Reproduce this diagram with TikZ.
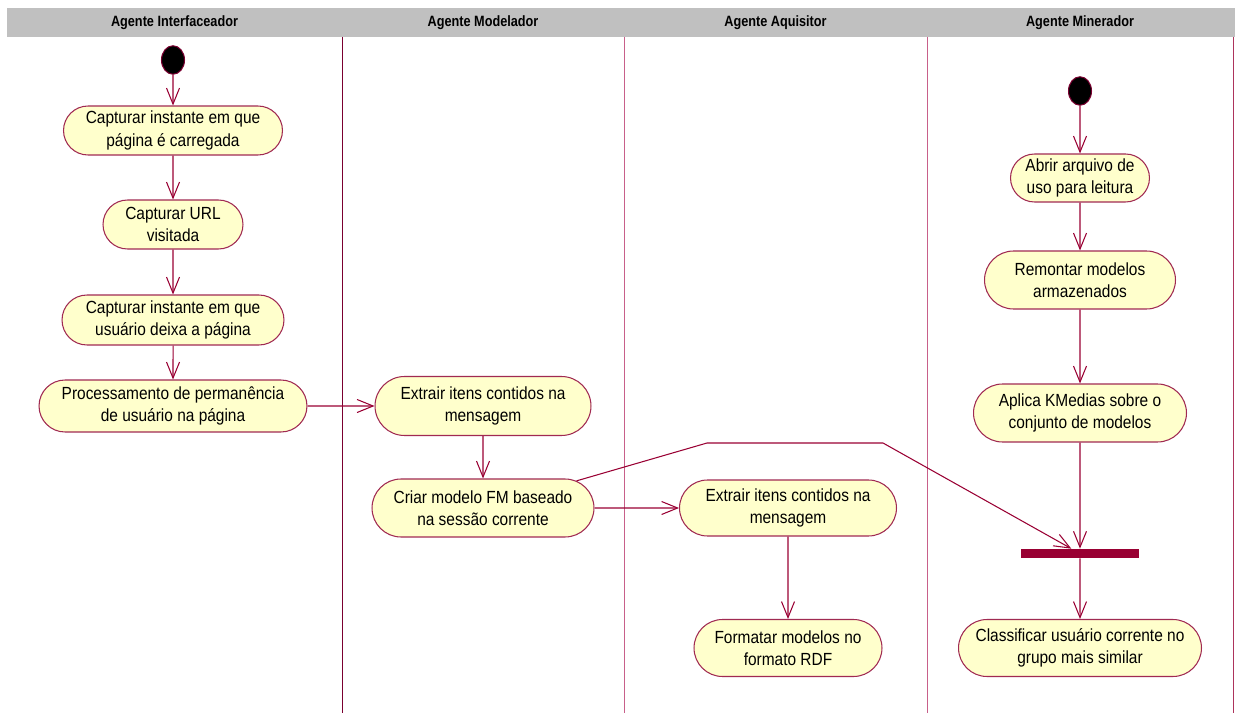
\documentclass[tikz,border=0pt]{standalone}
\usepackage{fontspec}
\setmainfont[FakeStretch=0.88]{Liberation Sans}
\newfontfamily\lanefont[FakeStretch=0.85]{Liberation Sans}
\usetikzlibrary{shapes.misc,shapes.geometric,arrows.meta}
\definecolor{flowred}{HTML}{990033}
\definecolor{actborder}{HTML}{A02A52}
\definecolor{actfill}{HTML}{FFFFCC}
\definecolor{headgray}{HTML}{C0C0C0}
\definecolor{sepdark}{HTML}{7A0030}
\definecolor{seplight}{HTML}{C8608A}

\begin{document}
\begin{tikzpicture}[x=0.02cm,y=-0.02cm]
        \tikzstyle{activity}=[rounded rectangle, draw=actborder, fill=actfill, line width=0.6pt, align=center, inner sep=0pt, font=\fontsize{10}{12.8}\selectfont]
        \tikzstyle{start}=[ellipse, draw=sepdark, fill=black, line width=0.6pt, minimum width=0.46cm, minimum height=0.57cm, inner sep=0pt]
        \tikzstyle{flow}=[draw=flowred, line width=0.6pt, -{Straight Barb[length=3.2mm,width=2.6mm]}]
        \tikzstyle{lane}=[font=\lanefont\bfseries\fontsize{8.5}{10}\selectfont]

            \useasboundingbox (0,0) rectangle (1235,713);

            % swimlanes
            \fill[headgray] (7,8) rectangle (1235,37);
            \node[lane] (h1) at (174.5,22.5) {Agente Interfaceador};
            \node[lane] (h2) at (483,22.5) {Agente Modelador};
            \node[lane] (h3) at (775.5,22.5) {Agente Aquisitor};
            \node[lane] (h4) at (1080,22.5) {Agente Minerador};
            \draw[sepdark, line width=0.5pt] (342,37) -- (342,713);
            \draw[seplight, line width=0.5pt] (624,37) -- (624,713);
            \draw[seplight, line width=0.5pt] (927,37) -- (927,713);
            \draw[flowred!80, line width=0.5pt] (1233,37) -- (1233,713);

            % Agente Interfaceador
            \node[start](s1) at (173,60){};
            \node[activity, minimum width=4.38cm, minimum height=0.98cm](i1) at (173,130.5){Capturar instante em que\\página é carregada};
            \node[activity, minimum width=2.8cm, minimum height=0.98cm](i2) at (173,224.5){Capturar URL\\visitada};
            \node[activity, minimum width=4.44cm, minimum height=1.0cm](i3) at (173,320){Capturar instante em que\\usuário deixa a página};
            \node[activity, minimum width=5.36cm, minimum height=1.04cm](i4) at (173,406){Processamento de permanência\\de usuário na página};

            % Agente Modelador
            \node[activity, minimum width=4.32cm, minimum height=1.18cm](m1) at (483,406){Extrair itens contidos na\\mensagem};
            \node[activity, minimum width=4.44cm, minimum height=1.16cm](m2) at (483,508){Criar modelo FM baseado\\na sessão corrente};

            % Agente Aquisitor
            \node[activity, minimum width=4.34cm, minimum height=1.12cm](a1) at (788,508){Extrair itens contidos na\\mensagem};
            \node[activity, minimum width=3.76cm, minimum height=1.14cm](a2) at (788,648){Formatar modelos no\\formato RDF};

            % Agente Minerador
            \node[start](s2) at (1080,91){};
            \node[activity, minimum width=2.78cm, minimum height=0.96cm](b1) at (1080,178){Abrir arquivo de\\uso para leitura};
            \node[activity, minimum width=3.82cm, minimum height=1.16cm](b2) at (1080,280){Remontar modelos\\armazenados};
            \node[activity, minimum width=4.26cm, minimum height=1.16cm](b3) at (1080,413){Aplica KMedias sobre o\\conjunto de modelos};
            \node[rectangle, fill=flowred, inner sep=0pt, minimum width=2.38cm, minimum height=0.18cm](bar) at (1080,553.5){};
            \node[activity, minimum width=4.86cm, minimum height=1.14cm](b4) at (1080,648){Classificar usuário corrente no\\grupo mais similar};

            \coordinate (k1) at (707,443);
            \coordinate (k2) at (883,443);

            \foreach \from/\to in {s1/i1,i1/i2,i2/i3,i3/i4}
            \draw[flow] (\from) -- (\to);

            \foreach \from/\to in {i4/m1,m1/m2,m2/a1,a1/a2}
            \draw[flow] (\from) -- (\to);

            \foreach \from/\to in {s2/b1,b1/b2,b2/b3,b3/bar,bar/b4}
            \draw[flow] (\from) -- (\to);

            \draw[flow] (m2) -- (k1) -- (k2) -- (bar);

        \end{tikzpicture}
\end{document}
